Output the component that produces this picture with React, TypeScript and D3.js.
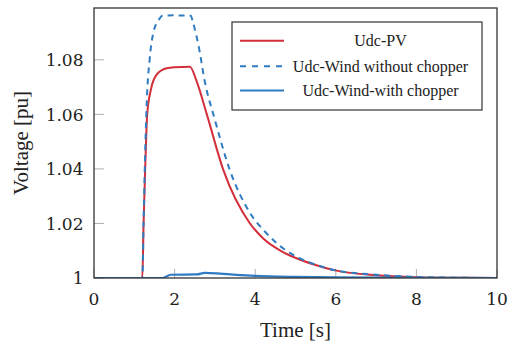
import React from "react";
import * as d3 from "d3";

// Time samples (s) and DC-link voltage (pu) for each series
const pvTime = [0, 1.2, 1.23, 1.27, 1.32, 1.41, 1.55, 1.8, 2.0, 2.38, 2.55, 2.8, 3.2, 3.87, 4.2, 4.69, 5.1, 5.52, 6.02, 7.0, 8.0, 9.0, 10.0];
const pvVolt = [1.0, 1.0, 1.02, 1.04, 1.06, 1.069, 1.0745, 1.0769, 1.0773, 1.0775, 1.072, 1.06, 1.04, 1.02, 1.0145, 1.0095, 1.0068, 1.0047, 1.0027, 1.001, 1.0003, 1.0001, 1.0];

const windTime = [0, 1.2, 1.23, 1.26, 1.31, 1.38, 1.47, 1.6, 1.7, 2.0, 2.4, 2.46, 2.59, 2.75, 3.0, 3.36, 3.87, 4.28, 4.69, 5.11, 5.52, 6.0, 7.0, 8.0, 9.0, 10.0];
const windVolt = [1.0, 1.0, 1.02, 1.04, 1.065, 1.08, 1.0898, 1.0945, 1.0962, 1.0963, 1.0962, 1.0935, 1.0855, 1.072, 1.058, 1.04, 1.0239, 1.0164, 1.0109, 1.0072, 1.0048, 1.0028, 1.0012, 1.0004, 1.0001, 1.0];

const chopTime = [0, 1.7, 1.9, 2.55, 2.75, 3.2, 4.0, 5.0, 6.0, 8.0, 10.0];
const chopVolt = [1.0, 1.0, 1.0012, 1.0013, 1.0019, 1.0015, 1.0008, 1.0004, 1.0002, 1.0001, 1.0];

const xTicks = [0, 2, 4, 6, 8, 10];
const yTicks = [1, 1.02, 1.04, 1.06, 1.08];

const seriesNames = ["Udc-PV", "Udc-Wind without chopper", "Udc-Wind-with chopper"];

const RED = "#d22f3a";
const BLUE = "#2f7cc2";

export default function App() {
  const W = 518;
  const H = 347;
  const left = 94;
  const right = 497;
  const top = 8;
  const bottom = 278;

  const x = d3.scaleLinear().domain([0, 10]).range([left, right]);
  const y = d3.scaleLinear().domain([1, 1.099]).range([bottom, top]);

  const line = d3
    .line<[number, number]>()
    .x((d) => x(d[0]))
    .y((d) => y(d[1]))
    .curve(d3.curveMonotoneX);

  const zip = (t: number[], v: number[]) => t.map((ti, i) => [ti, v[i]] as [number, number]);

  const pvPath = line(zip(pvTime, pvVolt)) || "";
  const windPath = line(zip(windTime, windVolt)) || "";
  const chopPath = line(zip(chopTime, chopVolt)) || "";

  const serif = "'Liberation Serif', 'Times New Roman', serif";
  const tickFont = "'DejaVu Serif', serif";

  // legend geometry
  const lgX = 232;
  const lgY = 22;
  const lgW = 250;
  const lgH = 88;
  const rowY = [40.7, 66.3, 90.5];
  const styles = [
    { stroke: RED, dash: undefined as string | undefined },
    { stroke: BLUE, dash: "6,6" },
    { stroke: BLUE, dash: undefined as string | undefined },
  ];

  return (
    <svg
      width={W}
      height={H}
      style={{ position: "absolute", left: 0, top: 0, background: "#fff" }}
    >
      <defs>
        <clipPath id="plot-area">
          <rect x={left} y={top} width={right - left} height={bottom - top} />
        </clipPath>
      </defs>

      {/* inward tick marks */}
      {xTicks.map((t) => (
        <line key={"xt" + t} x1={x(t)} x2={x(t)} y1={bottom} y2={bottom - 9} stroke="#b0b0b0" strokeWidth={1} />
      ))}
      {yTicks.map((t) => (
        <line key={"yt" + t} x1={left} x2={left + 10} y1={y(t)} y2={y(t)} stroke="#b0b0b0" strokeWidth={1} />
      ))}

      {/* series */}
      <g clipPath="url(#plot-area)" fill="none" strokeLinejoin="round">
        <path d={pvPath} stroke={RED} strokeWidth={2} />
        <path d={windPath} stroke={BLUE} strokeWidth={2} strokeDasharray="6,5" />
        <path d={chopPath} stroke={BLUE} strokeWidth={2.2} />
      </g>

      {/* frame */}
      <rect x={left} y={top} width={right - left} height={bottom - top} fill="none" stroke="#333" strokeWidth={1.3} />

      {/* tick labels */}
      {xTicks.map((t) => (
        <text key={"xl" + t} x={x(t)} y={305} textAnchor="middle" fontFamily={tickFont} fontSize={17} fill="#222">
          {d3.format("")(t)}
        </text>
      ))}
      {yTicks.map((t) => (
        <text key={"yl" + t} x={83.5} y={y(t) + 6.2} textAnchor="end" fontFamily={tickFont} fontSize={17} fill="#222">
          {t === 1 ? "1" : d3.format(".2f")(t)}
        </text>
      ))}

      {/* axis labels */}
      <text x={(left + right) / 2} y={337} textAnchor="middle" fontFamily={serif} fontSize={21} fill="#222">
        Time [s]
      </text>
      <text
        transform={`translate(28, ${(top + bottom) / 2}) rotate(-90)`}
        textAnchor="middle"
        fontFamily={serif}
        fontSize={21}
        fill="#222"
      >
        Voltage [pu]
      </text>

      {/* legend */}
      <rect x={lgX} y={lgY} width={lgW} height={lgH} fill="#fff" stroke="#333" strokeWidth={1.2} />
      {seriesNames.map((name, i) => (
        <g key={name}>
          <line
            x1={lgX + 8}
            x2={lgX + 52}
            y1={rowY[i]}
            y2={rowY[i]}
            stroke={styles[i].stroke}
            strokeWidth={2}
            strokeDasharray={styles[i].dash}
          />
          <text x={380.5} y={rowY[i] + 5.5} textAnchor="middle" fontFamily={serif} fontSize={16} fill="#222">
            {name}
          </text>
        </g>
      ))}
    </svg>
  );
}
